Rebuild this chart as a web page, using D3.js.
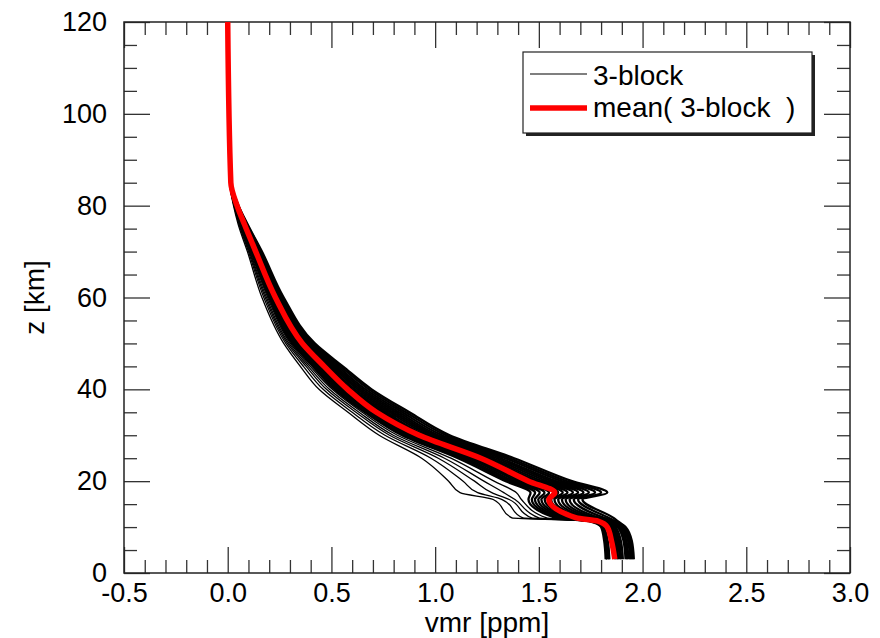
<!DOCTYPE html>
<html>
<head>
<meta charset="utf-8">
<script src="https://cdn.jsdelivr.net/npm/d3@7"></script>
<style>
  body { margin: 0; background: #fff; }
  svg { font-family: "Liberation Sans", Arial, Helvetica, sans-serif; }
</style>
</head>
<body>
<svg id="chart" width="880" height="638"></svg>
<script>
// altitude levels [km], shared by every profile
const zLevels = [120, 85, 80, 76, 70, 60, 50, 45, 40, 35, 30, 25, 20, 17.5, 16, 12, 11.3, 10, 7, 3];

// red mean profile, vmr [ppm]
const meanVmr = [0, .015, .045, .08, .135, .23, .36, .465, .578, .717, .923, 1.22, 1.45, 1.577, 1.548, 1.68, 1.785, 1.83, 1.85, 1.866];

// single 3-block profiles: the few low ones on the left, then the dense bundle
const sparseVmr = [
  [0, .010, .028, .050, .095, .165, .270, .350, .440, .580, .730, .935, 1.065, 1.120, 1.280, 1.370, 1.780, 1.810, 1.822, 1.828],
  [0, .010, .030, .054, .100, .174, .280, .365, .460, .600, .758, .980, 1.135, 1.205, 1.323, 1.423, 1.770, 1.808, 1.820, 1.826],
  [0, .011, .031, .057, .104, .181, .288, .378, .476, .618, .780, 1.015, 1.190, 1.273, 1.357, 1.465, 1.762, 1.805, 1.818, 1.824],
  [0, .011, .032, .059, .107, .187, .295, .388, .490, .633, .798, 1.045, 1.235, 1.331, 1.385, 1.500, 1.755, 1.804, 1.830, 1.840],
  [0, .012, .034, .062, .111, .193, .302, .398, .504, .648, .818, 1.076, 1.284, 1.392, 1.416, 1.538, 1.748, 1.802, 1.825, 1.835]
];
const denseVmr = [
  [0, .012, .035, .065, .115, .200, .310, .410, .515, .662, .840, 1.110, 1.340, 1.460, 1.450, 1.580, 1.740, 1.800, 1.815, 1.822],
  [0, .012, .036, .067, .118, .204, .317, .419, .526, .676, .854, 1.127, 1.359, 1.482, 1.466, 1.597, 1.748, 1.805, 1.822, 1.830],
  [0, .013, .037, .069, .121, .208, .323, .428, .537, .689, .868, 1.143, 1.378, 1.504, 1.481, 1.614, 1.757, 1.812, 1.832, 1.840],
  [0, .013, .038, .070, .124, .213, .330, .437, .547, .702, .881, 1.160, 1.398, 1.527, 1.497, 1.630, 1.765, 1.835, 1.858, 1.868],
  [0, .013, .039, .072, .127, .217, .336, .445, .558, .715, .895, 1.176, 1.417, 1.549, 1.512, 1.647, 1.774, 1.842, 1.866, 1.875],
  [0, .014, .040, .074, .130, .221, .343, .454, .568, .728, .909, 1.192, 1.436, 1.571, 1.528, 1.664, 1.782, 1.850, 1.873, 1.882],
  [0, .014, .041, .076, .133, .225, .350, .463, .579, .741, .923, 1.208, 1.455, 1.593, 1.544, 1.681, 1.790, 1.856, 1.880, 1.890],
  [0, .015, .042, .078, .136, .229, .356, .472, .590, .754, .937, 1.224, 1.474, 1.615, 1.559, 1.698, 1.799, 1.862, 1.887, 1.897],
  [0, .015, .043, .079, .139, .234, .363, .480, .600, .767, .950, 1.241, 1.494, 1.638, 1.575, 1.714, 1.807, 1.870, 1.895, 1.905],
  [0, .015, .044, .082, .143, .239, .371, .490, .613, .782, .967, 1.260, 1.516, 1.664, 1.593, 1.734, 1.817, 1.880, 1.908, 1.918],
  [0, .016, .046, .084, .146, .243, .378, .500, .626, .796, .983, 1.278, 1.538, 1.689, 1.611, 1.754, 1.827, 1.886, 1.915, 1.925],
  [0, .016, .047, .086, .150, .248, .386, .510, .638, .811, .999, 1.297, 1.561, 1.715, 1.629, 1.773, 1.837, 1.893, 1.922, 1.932],
  [0, .017, .048, .088, .153, .253, .394, .520, .651, .826, 1.015, 1.316, 1.583, 1.741, 1.648, 1.793, 1.846, 1.900, 1.930, 1.940],
  [0, .017, .049, .090, .157, .259, .402, .531, .665, .842, 1.033, 1.338, 1.609, 1.771, 1.668, 1.815, 1.858, 1.906, 1.936, 1.946],
  [0, .018, .051, .093, .161, .264, .411, .543, .680, .859, 1.052, 1.359, 1.634, 1.800, 1.689, 1.838, 1.869, 1.912, 1.942, 1.952],
  [0, .018, .052, .095, .165, .270, .420, .555, .694, .876, 1.070, 1.381, 1.660, 1.830, 1.710, 1.860, 1.880, 1.918, 1.948, 1.958]
];

const xTicks = [-0.5, 0.0, 0.5, 1.0, 1.5, 2.0, 2.5, 3.0];
const yTicks = [0, 20, 40, 60, 80, 100, 120];
const legendLabels = ["3-block", "mean( 3-block  )"];

const svg = d3.select("#chart");
const plotLeft = 124, plotRight = 850, plotTop = 22, plotBottom = 573;

const x = d3.scaleLinear().domain([-0.5, 3.0]).range([plotLeft, plotRight]);
const y = d3.scaleLinear().domain([0, 120]).range([plotBottom, plotTop]);

// inward ticks on all four sides
function drawTicks(axisFn, vals, size, tx, ty, labels) {
  const ax = axisFn.tickValues(vals).tickSize(-size).tickSizeOuter(0);
  if (!labels) ax.tickFormat("");
  const g = svg.append("g").attr("transform", `translate(${tx},${ty})`).call(ax);
  g.select(".domain").remove();
  g.selectAll(".tick line").attr("stroke", "#333").attr("stroke-width", 1.3);
  return g;
}

const xMinor = x.ticks(35).filter(v => !xTicks.some(t => Math.abs(t - v) < 1e-6));
const yMinor = y.ticks(24).filter(v => yTicks.indexOf(v) < 0);

drawTicks(d3.axisBottom(x).tickFormat(d => d.toFixed(1)).tickPadding(10), xTicks, 26, 0, plotBottom, true);
drawTicks(d3.axisBottom(x), xMinor, 13, 0, plotBottom, false);
drawTicks(d3.axisTop(x), xTicks, 26, 0, plotTop, false);
drawTicks(d3.axisTop(x), xMinor, 13, 0, plotTop, false);
drawTicks(d3.axisLeft(y).tickFormat(d => d).tickPadding(17), yTicks, 26, plotLeft, 0, true);
drawTicks(d3.axisLeft(y), yMinor, 13, plotLeft, 0, false);
drawTicks(d3.axisRight(y), yTicks, 26, plotRight, 0, false);
drawTicks(d3.axisRight(y), yMinor, 13, plotRight, 0, false);

svg.selectAll(".tick text")
  .attr("fill", "#000")
  .style("font-size", "27px")
  .style("font-family", "'Liberation Sans', Arial, sans-serif");

// frame
svg.append("rect")
  .attr("x", plotLeft).attr("y", plotTop)
  .attr("width", plotRight - plotLeft).attr("height", plotBottom - plotTop)
  .attr("fill", "none").attr("stroke", "#222").attr("stroke-width", 1.5);

// profiles
const line = d3.line()
  .x(d => x(d[0]))
  .y(d => y(d[1]))
  .curve(d3.curveMonotoneY);
const toPts = p => p.map((v, i) => [v, zLevels[i]]);

const plot = svg.append("g");
plot.selectAll("path.sparse")
  .data(sparseVmr)
  .join("path")
  .attr("class", "sparse")
  .attr("d", p => line(toPts(p)))
  .attr("fill", "none")
  .attr("stroke", "#000")
  .attr("stroke-width", 1.3);

plot.selectAll("path.dense")
  .data(denseVmr)
  .join("path")
  .attr("class", "dense")
  .attr("d", p => line(toPts(p)))
  .attr("fill", "none")
  .attr("stroke", "#000")
  .attr("stroke-width", 2.3);

plot.append("path")
  .attr("d", line(toPts(meanVmr)))
  .attr("fill", "none")
  .attr("stroke", "#ff0000")
  .attr("stroke-width", 5.5)
  .attr("stroke-linejoin", "round");

// axis titles
svg.append("text")
  .attr("x", (plotLeft + plotRight) / 2).attr("y", 632)
  .attr("text-anchor", "middle")
  .style("font-size", "28px")
  .text("vmr [ppm]");

svg.append("text")
  .attr("transform", `translate(44,${(plotTop + plotBottom) / 2}) rotate(-90)`)
  .attr("text-anchor", "middle")
  .style("font-size", "28px")
  .text("z [km]");

// legend
const lg = svg.append("g");
lg.append("rect")
  .attr("x", 526).attr("y", 55).attr("width", 289).attr("height", 81)
  .attr("fill", "#222");
lg.append("rect")
  .attr("x", 523).attr("y", 52).attr("width", 289).attr("height", 81)
  .attr("fill", "#fff").attr("stroke", "#222").attr("stroke-width", 1.2);

const legendStyle = [
  { color: "#000", width: 1.2, ly: 74, ty: 85 },
  { color: "#ff0000", width: 5.5, ly: 108, ty: 117 }
];
legendLabels.forEach((lab, i) => {
  const s = legendStyle[i];
  lg.append("line")
    .attr("x1", 530).attr("x2", 587)
    .attr("y1", s.ly).attr("y2", s.ly)
    .attr("stroke", s.color).attr("stroke-width", s.width);
  lg.append("text")
    .attr("x", 593).attr("y", s.ty)
    .style("font-size", "28px")
    .style("white-space", "pre")
    .text(lab);
});
</script>
</body>
</html>
